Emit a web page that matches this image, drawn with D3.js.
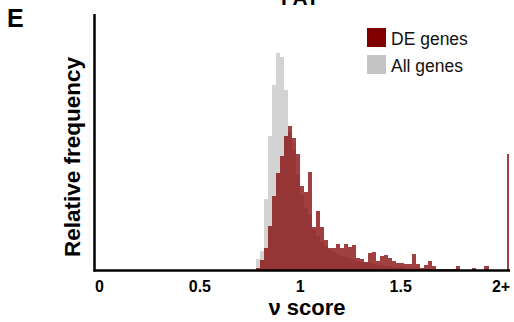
<!DOCTYPE html>
<html>
<head>
<meta charset="utf-8">
<script src="https://cdn.jsdelivr.net/npm/d3@7"></script>
<style>
  body { margin: 0; background: #fff; }
  svg { display: block; font-family: "Liberation Sans", Arial, sans-serif; }
</style>
</head>
<body>
<div id="chart"></div>
<script>
// histogram bins: 0.78 .. 2.00, width 0.02
const binStart = 0.78;
const binWidth = 0.02;

// DE genes, relative frequency (arbitrary units)
const deValues = [
  2, 10, 22, 44, 74, 97, 114, 134, 144, 132,
  116, 84, 78, 98, 43, 59, 43, 30, 22, 22,
  26, 22, 26, 23, 25, 12, 11, 8, 17, 18,
  9, 14, 15, 12, 9, 7, 7, 6, 6, 16,
  6, 2, 5, 9, 4, 1, 1, 1, 1, 1,
  4, 0, 0, 0, 2, 0, 0, 4, 0, 0, 0
];

// All genes
const allValues = [
  11, 19, 71, 134, 185, 217, 213, 180, 138, 120,
  95, 75, 62, 55, 40, 34, 28, 24, 20, 18,
  16, 14, 13, 12, 11, 9, 8, 7, 7, 6,
  5, 5, 4, 4, 3, 3, 3, 2, 2, 2,
  2, 1, 1, 1, 0, 0, 0, 0, 0, 0,
  0, 0, 0, 0, 0, 0, 0, 0, 0, 0, 0
];

// overflow bin "2+"
const deOverflow = 116;
const overflowRange = [2.03, 2.042];

const tickValues = [0, 0.5, 1, 1.5, 2];
const tickLabels = ['0', '0.5', '1', '1.5', '2+'];

const legendItems = [
  { name: 'DE genes', color: '#800000' },
  { name: 'All genes', color: '#c4c4c4' }
];

const width = 514;
const height = 322;

const svg = d3.select('#chart')
  .append('svg')
  .attr('width', width)
  .attr('height', height);

const x = d3.scaleLinear().domain([0, 2.06]).range([99, 512.6]);
const y = d3.scaleLinear().domain([0, 256]).range([270, 14]);

const bins = (vals) => vals.map((v, i) => ({
  x0: binStart + i * binWidth,
  x1: binStart + (i + 1) * binWidth,
  value: v
}));

// all genes (gray) underneath
svg.append('g')
  .selectAll('rect')
  .data(bins(allValues))
  .join('rect')
  .attr('x', d => x(d.x0))
  .attr('width', d => x(d.x1) - x(d.x0))
  .attr('y', d => y(d.value))
  .attr('height', d => y(0) - y(d.value))
  .attr('fill', '#d3d3d3')
  .attr('shape-rendering', 'crispEdges');

// DE genes on top, semi transparent
const deData = bins(deValues);
deData.push({ x0: overflowRange[0], x1: overflowRange[1], value: deOverflow });

svg.append('g')
  .attr('fill-opacity', 0.75)
  .selectAll('rect')
  .data(deData)
  .join('rect')
  .attr('x', d => x(d.x0))
  .attr('width', d => x(d.x1) - x(d.x0))
  .attr('y', d => y(d.value))
  .attr('height', d => y(0) - y(d.value))
  .attr('fill', '#800000')
  .attr('shape-rendering', 'crispEdges');

// axis lines
svg.append('line')
  .attr('x1', 94.5).attr('x2', 94.5)
  .attr('y1', 14).attr('y2', 271.5)
  .attr('stroke', '#000')
  .attr('stroke-width', 2.5);

svg.append('line')
  .attr('x1', 93.5).attr('x2', 510)
  .attr('y1', 270.5).attr('y2', 270.5)
  .attr('stroke', '#000')
  .attr('stroke-width', 2.5);

// x tick labels
const xAxis = d3.axisBottom(x)
  .tickValues(tickValues)
  .tickFormat((d, i) => tickLabels[i])
  .tickSize(0)
  .tickPadding(0);

const gx = svg.append('g')
  .attr('transform', 'translate(0,280.5)')
  .call(xAxis);
gx.select('.domain').remove();
gx.selectAll('text')
  .attr('font-size', 16)
  .attr('font-weight', 'bold')
  .attr('font-family', '"Liberation Sans", Arial, sans-serif')
  .attr('fill', '#000');

// axis titles
svg.append('text')
  .attr('x', 307)
  .attr('y', 315)
  .attr('text-anchor', 'middle')
  .attr('font-size', 22)
  .attr('font-weight', 'bold')
  .text('ν score');

svg.append('text')
  .attr('transform', 'translate(80,157) rotate(-90)')
  .attr('text-anchor', 'middle')
  .attr('font-size', 22.5)
  .attr('font-weight', 'bold')
  .text('Relative frequency');

// panel letter and title (title cut off at the top)
svg.append('text')
  .attr('x', 7)
  .attr('y', 27)
  .attr('font-size', 25)
  .attr('font-weight', 'bold')
  .text('E');

svg.append('text')
  .attr('x', 300)
  .attr('y', 5)
  .attr('text-anchor', 'middle')
  .attr('font-size', 21)
  .attr('font-weight', 'bold')
  .text('FAT');

// legend
const legend = svg.append('g')
  .selectAll('g')
  .data(legendItems)
  .join('g')
  .attr('transform', (d, i) => `translate(367,${28 + i * 27})`);

legend.append('rect')
  .attr('width', 19)
  .attr('height', 19)
  .attr('fill', d => d.color);

legend.append('text')
  .attr('x', 24)
  .attr('y', 17)
  .attr('font-size', 17.5)
  .attr('fill', '#111')
  .text(d => d.name);
</script>
</body>
</html>
